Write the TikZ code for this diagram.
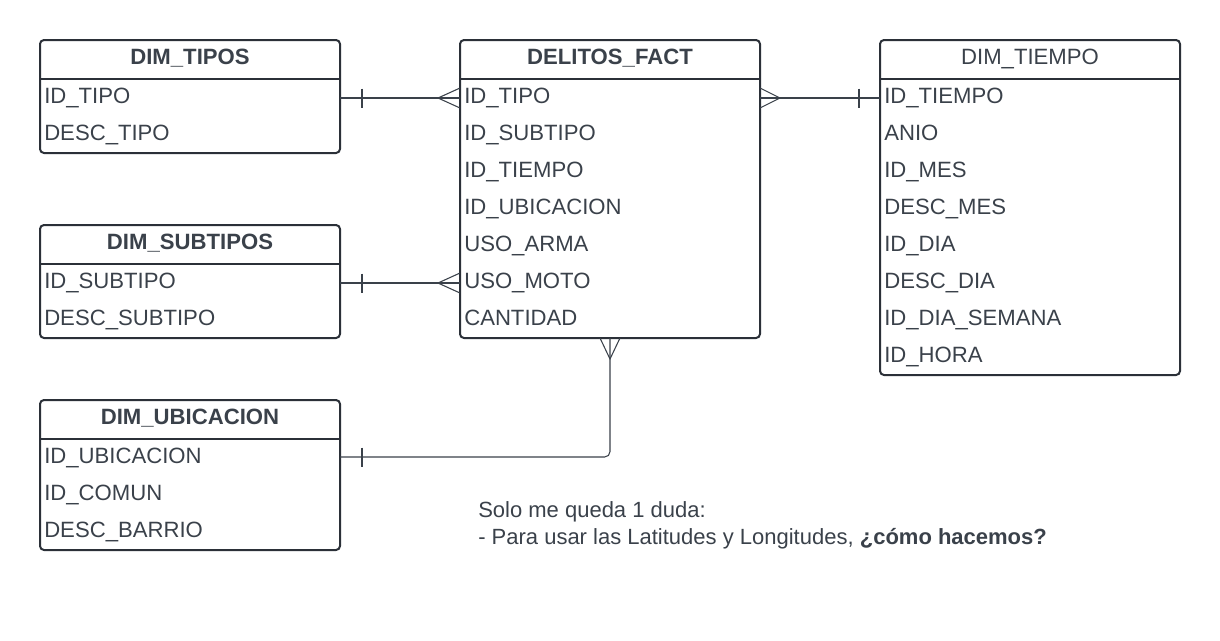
\documentclass[tikz,border=0pt]{standalone}
\usepackage{fontspec}
\setmainfont{Liberation Sans}
\usetikzlibrary{calc}
\definecolor{ink}{HTML}{3A414A}
\definecolor{edge}{HTML}{2B3038}
\tikzset{
  frame/.style={draw=edge, line width=1.5pt, rounded corners=3pt, inner sep=0pt, outer sep=0pt, minimum width=225pt, anchor=north west},
  sepline/.style={draw=edge, line width=1.5pt},
  rowtxt/.style={text=ink, inner sep=0pt, anchor=base west, font=\fontsize{16.6}{19}\selectfont},
  headb/.style={text=ink, inner sep=0pt, anchor=base, font=\fontsize{16.6}{19}\selectfont\bfseries},
  headn/.style={text=ink, inner sep=0pt, anchor=base, font=\fontsize{16.6}{19}\selectfont},
  conn/.style={draw=ink, line width=0.8pt},
  note/.style={text=ink, inner sep=0pt, anchor=base west, font=\fontsize{16.5}{19}\selectfont}
}
\begin{document}
\begin{tikzpicture}[x=0.75pt, y=-0.75pt]
\useasboundingbox (0,0) rectangle (1220,640);

% DIM_TIPOS
\node[frame, minimum height=84.75pt] (tipos) at (40,40) {};
\draw[sepline] ($(tipos.north west)+(0,39)$) -- ($(tipos.north east)+(0,39)$);
\node[headb] (tipos-h) at (190,64.5) {DIM\_TIPOS};
\foreach \t [count=\i] in {ID\_TIPO, DESC\_TIPO}
  \node[rowtxt] (tipos-\i) at (44,{79+37*(\i-1)+24.5}) {\t};

% DIM_SUBTIPOS
\node[frame, minimum height=84.75pt] (sub) at (40,225) {};
\draw[sepline] ($(sub.north west)+(0,39)$) -- ($(sub.north east)+(0,39)$);
\node[headb] (sub-h) at (190,249.5) {DIM\_SUBTIPOS};
\foreach \t [count=\i] in {ID\_SUBTIPO, DESC\_SUBTIPO}
  \node[rowtxt] (sub-\i) at (44,{264+37*(\i-1)+24.5}) {\t};

% DIM_UBICACION
\node[frame, minimum height=112.5pt] (ubic) at (40,400) {};
\draw[sepline] ($(ubic.north west)+(0,39)$) -- ($(ubic.north east)+(0,39)$);
\node[headb] (ubic-h) at (190,424.5) {DIM\_UBICACION};
\foreach \t [count=\i] in {ID\_UBICACION, ID\_COMUN, DESC\_BARRIO}
  \node[rowtxt] (ubic-\i) at (44,{439+37*(\i-1)+24.5}) {\t};

% DELITOS_FACT
\node[frame, minimum height=223.5pt] (fact) at (460,40) {};
\draw[sepline] ($(fact.north west)+(0,39)$) -- ($(fact.north east)+(0,39)$);
\node[headb] (fact-h) at (610,64.5) {DELITOS\_FACT};
\foreach \t [count=\i] in {ID\_TIPO, ID\_SUBTIPO, ID\_TIEMPO, ID\_UBICACION, USO\_ARMA, USO\_MOTO, CANTIDAD}
  \node[rowtxt] (fact-\i) at (464,{79+37*(\i-1)+24.5}) {\t};

% DIM_TIEMPO
\node[frame, minimum height=251.25pt] (tiempo) at (880,40) {};
\draw[sepline] ($(tiempo.north west)+(0,39)$) -- ($(tiempo.north east)+(0,39)$);
\node[headn] (tiempo-h) at (1030,64.5) {DIM\_TIEMPO};
\foreach \t [count=\i] in {ID\_TIEMPO, ANIO, ID\_MES, DESC\_MES, ID\_DIA, DESC\_DIA, ID\_DIA\_SEMANA, ID\_HORA}
  \node[rowtxt] (tiempo-\i) at (884,{79+37*(\i-1)+24.5}) {\t};

% tipos -- fact
\draw[conn] ($(tipos.north east)+(0,58)$) -- ($(fact.north west)+(0,58)$);
\draw[conn] ($(tipos.north east)+(22,48.5)$) -- ($(tipos.north east)+(22,67.5)$);
\draw[conn] ($(fact.north west)+(0,48)$) -- ($(fact.north west)+(-22,58)$) -- ($(fact.north west)+(0,68)$);

% fact -- tiempo
\draw[conn] ($(fact.north east)+(0,58)$) -- ($(tiempo.north west)+(0,58)$);
\draw[conn] ($(tiempo.north west)+(-21,48.5)$) -- ($(tiempo.north west)+(-21,67.5)$);
\draw[conn] ($(fact.north east)+(0,48)$) -- ($(fact.north east)+(20,58)$) -- ($(fact.north east)+(0,68)$);

% sub -- fact
\draw[conn] ($(sub.north east)+(0,58)$) -- ($(fact.north west)+(0,243)$);
\draw[conn] ($(sub.north east)+(22,48.5)$) -- ($(sub.north east)+(22,67.5)$);
\draw[conn] ($(fact.north west)+(0,233)$) -- ($(fact.north west)+(-22,243)$) -- ($(fact.north west)+(0,253)$);

% fact -- ubic
\draw[conn, rounded corners=4pt] ($(fact.south west)+(150,0)$) |- ($(ubic.north east)+(0,57)$);
\draw[conn] ($(ubic.north east)+(22,47.5)$) -- ($(ubic.north east)+(22,66.5)$);
\draw[conn] ($(fact.south west)+(140,0)$) -- ($(fact.south west)+(150,21)$) -- ($(fact.south west)+(160,0)$);

% note
\node[note] (q1) at (478,517) {Solo me queda 1 duda:};
\node[note] (q2) at (478,544) {- Para usar las Latitudes y Longitudes, \textbf{¿cómo hacemos?}};
\end{tikzpicture}
\end{document}
